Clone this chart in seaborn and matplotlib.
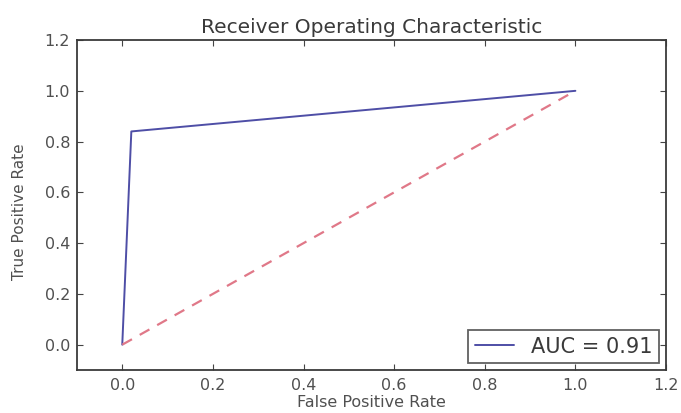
import matplotlib
matplotlib.use("Agg")
import matplotlib.pyplot as plt
import seaborn as sns
import pandas as pd

fpr = [0.0, 0.02, 1.0]
tpr = [0.0, 0.84, 1.0]
diag = [0.0, 1.0]
auc_label = "AUC = 0.91"
xticks = [0.0, 0.2, 0.4, 0.6, 0.8, 1.0, 1.2]
yticks = [0.0, 0.2, 0.4, 0.6, 0.8, 1.0, 1.2]

sns.set_style("white")
plt.rcParams['font.family'] = ['DejaVu Sans']

fig = plt.figure(figsize=(6.81, 4.13), dpi=100)
ax = fig.add_axes([0.113, 0.104, 0.865, 0.799])

roc = pd.DataFrame({"fpr": fpr, "tpr": tpr})
sns.lineplot(data=roc, x="fpr", y="tpr", ax=ax, color="#4e4ea6", lw=1.4,
             label=auc_label, sort=False, estimator=None)
dg = pd.DataFrame({"x": diag, "y": diag})
sns.lineplot(data=dg, x="x", y="y", ax=ax, color="#e07888", lw=1.6,
             linestyle=(0, (5, 4)), estimator=None)

ax.set_xlim(-0.1, 1.2)
ax.set_ylim(-0.1, 1.2)
ax.set_xticks(xticks)
ax.set_yticks(yticks)
ax.set_xticklabels([f"{t:.1f}" for t in xticks], fontsize=11.5, color="#505050")
ax.set_yticklabels([f"{t:.1f}" for t in yticks], fontsize=11.5, color="#505050")
ax.tick_params(direction="in", length=4, width=0.8, top=True, right=True,
               bottom=True, left=True, color="#444444")
ax.tick_params(axis="x", pad=6)
ax.tick_params(axis="y", pad=5)
for s in ax.spines.values():
    s.set_color("#3a3a3a")
    s.set_linewidth(1.3)

ax.set_title("Receiver Operating Characteristic", fontsize=14.5, color="#3a3a3a", pad=5)
ax.set_xlabel("False Positive Rate", fontsize=11.5, color="#505050", labelpad=1)
ax.set_ylabel("True Positive Rate", fontsize=11, color="#505050", labelpad=5)
ax.yaxis.set_label_coords(-0.085, 0.479)

leg = ax.legend(loc="lower right", fontsize=15, frameon=True, fancybox=False,
                handlelength=1.9, handletextpad=0.8, borderpad=0.3,
                borderaxespad=0.35)
leg.get_frame().set_edgecolor("#3a3a3a")
leg.get_frame().set_linewidth(1.3)
for t in leg.get_texts():
    t.set_color("#3a3a3a")

fig.savefig("out.png", dpi=100)
